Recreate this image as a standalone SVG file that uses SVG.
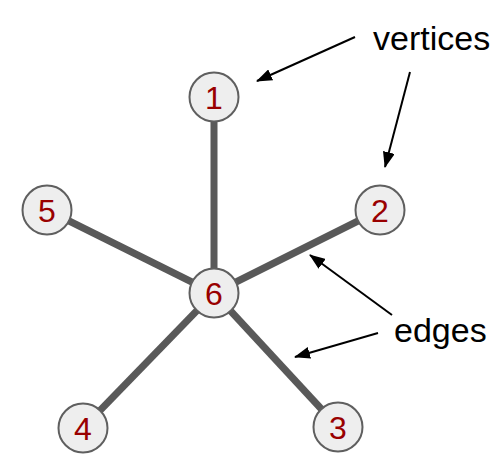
<svg xmlns="http://www.w3.org/2000/svg" width="498" height="462" viewBox="0 0 498 462">
<style>
.edge{stroke:#595959;stroke-width:7;stroke-linecap:butt}
.node circle{fill:#eeeeee;stroke:#5f5f5f;stroke-width:2}
.node text{font-family:"Liberation Sans",Arial,sans-serif;font-size:32px;fill:#990000;text-anchor:middle}
.ann{stroke:#000;stroke-width:2;marker-end:url(#ah)}
.lbl{font-family:"Liberation Sans",Arial,sans-serif;font-size:34px;fill:#000}
</style>
<defs>
<marker id="ah" markerWidth="16" markerHeight="12" refX="15" refY="6" orient="auto" markerUnits="userSpaceOnUse"><path d="M0,0 L16,6 L0,12 Z" fill="#000"/></marker>
</defs>
<g id="connectors">
<line class="edge" x1="214" y1="97" x2="214" y2="293"/>
<line class="edge" x1="214" y1="293" x2="380" y2="210"/>
<line class="edge" x1="214" y1="293" x2="47" y2="210"/>
<line class="edge" x1="214" y1="293" x2="83" y2="428"/>
<line class="edge" x1="214" y1="293" x2="338" y2="427"/>
</g>
<g id="node1" class="node"><circle cx="214" cy="97" r="24.5"/><text x="214" y="108.5">1</text></g>
<g id="node2" class="node"><circle cx="380" cy="210" r="24.5"/><text x="380" y="221.5">2</text></g>
<g id="node3" class="node"><circle cx="338" cy="427" r="24.5"/><text x="338" y="438.5">3</text></g>
<g id="node4" class="node"><circle cx="83" cy="428" r="24.5"/><text x="83" y="439.5">4</text></g>
<g id="node5" class="node"><circle cx="47" cy="210" r="24.5"/><text x="47" y="221.5">5</text></g>
<g id="node6" class="node"><circle cx="214" cy="293" r="24.5"/><text x="214" y="304.5">6</text></g>
<g id="annotations">
<text class="lbl" x="373" y="50">vertices</text>
<text class="lbl" x="394" y="342">edges</text>
<line class="ann" x1="355" y1="37" x2="257" y2="81"/>
<line class="ann" x1="410" y1="72" x2="385" y2="167"/>
<line class="ann" x1="392" y1="315" x2="310" y2="255"/>
<line class="ann" x1="378" y1="333" x2="295" y2="357"/>
</g>
</svg>
